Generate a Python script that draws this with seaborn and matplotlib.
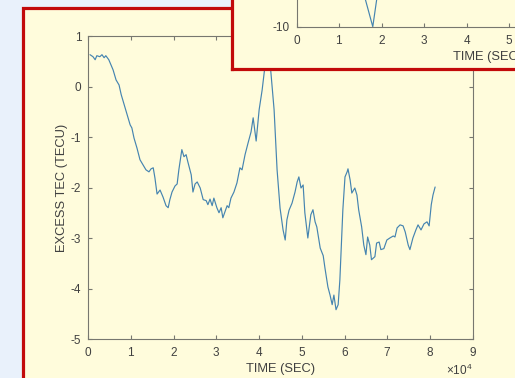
import matplotlib
matplotlib.use("Agg")
import matplotlib.pyplot as plt
import seaborn as sns
from matplotlib.patches import Rectangle

# main trace (time in seconds, TEC in TECU)
time_sec = [400, 1100, 1600, 2000, 2700, 3200, 3700, 4100, 4800, 5800,
            6500, 7200, 7700, 8400, 9100, 9800, 10200, 10700, 11400, 12100,
            12800, 13500, 14200, 14700, 15200, 15600, 16100, 16800, 17500, 18200,
            18700, 19100, 19600, 20300, 20800, 21200, 21900, 22400, 22900, 23300,
            24100, 24500, 25000, 25500, 26200, 26900, 27600, 28000, 28500, 29000,
            29400, 30100, 30600, 31100, 31500, 32000, 32500, 32900, 33400, 34100,
            34800, 35500, 36000, 36700, 37400, 38100, 38600, 39300, 40000, 40700,
            41400, 41800, 42300, 42700, 43500, 44200, 44900, 45600, 46100, 46500,
            47000, 47700, 48400, 48900, 49300, 49800, 50300, 50700, 51400, 52100,
            52600, 53100, 53500, 54300, 55000, 55400, 56100, 56600, 57100, 57500,
            58000, 58500, 58900, 59600, 60100, 60600, 60800, 61300, 61700, 62400,
            62900, 63300, 64000, 64500, 65000, 65400, 65900, 66300, 67100, 67500,
            68100, 68500, 69200, 69900, 70600, 71400, 71800, 72300, 73000, 73700,
            74200, 74900, 75300, 76000, 76700, 77200, 77900, 78600, 79300, 79800,
            80300, 80700, 81200]
tec = [0.63, 0.59, 0.53, 0.61, 0.59, 0.63, 0.57, 0.61, 0.53, 0.33,
       0.13, 0.03, -0.16, -0.36, -0.56, -0.76, -0.82, -1.02, -1.22, -1.45,
       -1.55, -1.65, -1.69, -1.63, -1.61, -1.81, -2.13, -2.05, -2.19, -2.36,
       -2.40, -2.24, -2.09, -1.97, -1.93, -1.65, -1.25, -1.39, -1.35, -1.49,
       -1.75, -2.09, -1.93, -1.89, -2.01, -2.24, -2.26, -2.34, -2.23, -2.36,
       -2.21, -2.40, -2.50, -2.40, -2.60, -2.48, -2.36, -2.40, -2.21, -2.09,
       -1.91, -1.61, -1.65, -1.35, -1.12, -0.90, -0.62, -1.08, -0.46, -0.07,
       0.43, 0.92, 0.83, 0.33, -0.46, -1.65, -2.41, -2.84, -3.04, -2.64,
       -2.45, -2.31, -2.09, -1.89, -1.79, -2.01, -1.95, -2.50, -3.00, -2.54,
       -2.44, -2.68, -2.78, -3.20, -3.35, -3.59, -3.97, -4.13, -4.32, -4.13,
       -4.42, -4.32, -3.83, -2.44, -1.79, -1.69, -1.63, -1.85, -2.11, -2.01,
       -2.15, -2.44, -2.78, -3.14, -3.33, -2.98, -3.14, -3.43, -3.37, -3.10,
       -3.08, -3.23, -3.21, -3.04, -3.00, -2.96, -2.98, -2.80, -2.74, -2.76,
       -2.88, -3.14, -3.23, -3.00, -2.84, -2.74, -2.84, -2.72, -2.68, -2.76,
       -2.34, -2.15, -1.99]

# the partly hidden inset figure in the top right corner
inset_time = [0, 15000, 17900, 19500, 40000]
inset_tec = [0.0, -5.2, -10.0, -5.0, 0.0]

x_ticks = list(range(0, 90001, 10000))
y_ticks = [-5, -4, -3, -2, -1, 0, 1]

cream = "#FFFCDC"
blue_bg = "#E9F1FB"
red = "#C20A0A"
spine_col = "#77776F"
text_col = "#404040"
line_col = "#4584B0"

sns.set_style("ticks")
plt.rcParams["font.family"] = ["Liberation Sans", "DejaVu Sans"]
plt.rcParams["mathtext.fontset"] = "custom"
plt.rcParams["mathtext.rm"] = "Liberation Sans"
plt.rcParams["mathtext.default"] = "regular"
plt.rcParams["axes.unicode_minus"] = False

W, H = 515, 378
fig = plt.figure(figsize=(W / 100, H / 100), dpi=100, facecolor=blue_bg)

# outer red frame
fig.patches.append(Rectangle((23.3 / W, -0.1), 1.2, 1 - 7.7 / H + 0.1,
                             transform=fig.transFigure, facecolor=cream,
                             edgecolor=red, linewidth=2.3, zorder=-5))


def style_axes(a):
    a.set_facecolor("none")
    for s in a.spines.values():
        s.set_visible(True)
        s.set_color(spine_col)
        s.set_linewidth(0.8)
    a.tick_params(direction="in", length=3, width=0.8, color=spine_col,
                  labelcolor=text_col, labelsize=8.5, top=True, right=True,
                  pad=5)
    a.xaxis.label.set_color(text_col)
    a.yaxis.label.set_color(text_col)


# main axes
ax = fig.add_axes([88.3 / W, 1 - 339 / H, 384.4 / W, 303 / H])
sns.lineplot(x=time_sec, y=tec, ax=ax, color=line_col, linewidth=0.85)
ax.set_xlim(0, 90000)
ax.set_ylim(-5, 1)
ax.set_xticks(x_ticks)
ax.set_yticks(y_ticks)
style_axes(ax)
ax.ticklabel_format(axis="x", style="sci", scilimits=(4, 4), useMathText=True)
ax.xaxis.get_offset_text().set_fontsize(8.5)
ax.xaxis.get_offset_text().set_color(text_col)
ax.set_xlabel("TIME (SEC)", fontsize=9.3, labelpad=3)
ax.set_ylabel("EXCESS TEC (TECU)", fontsize=9.3, labelpad=2)

# inset frame
frame = fig.add_axes([231.5 / W, 1 - 68.7 / H, 0.6, 0.4], zorder=5)
frame.set_facecolor(cream)
frame.set_xticks([])
frame.set_yticks([])
for s in frame.spines.values():
    s.set_color(red)
    s.set_linewidth(2.3)

# inset plot
ins = fig.add_axes([296.7 / W, 1 - 26.7 / H, 382.5 / W, 0.5], zorder=6)
sns.lineplot(x=inset_time, y=inset_tec, ax=ins, color=line_col, linewidth=0.85)
ins.set_xlim(0, 90000)
ins.set_ylim(-10, 10)
ins.set_xticks(x_ticks)
ins.set_yticks([-10, 0, 10])
style_axes(ins)
ins.ticklabel_format(axis="x", style="sci", scilimits=(4, 4), useMathText=True)
ins.set_xlabel("TIME (SEC)", fontsize=9.3, labelpad=3)

fig.savefig("out.png", dpi=100, facecolor=blue_bg)
